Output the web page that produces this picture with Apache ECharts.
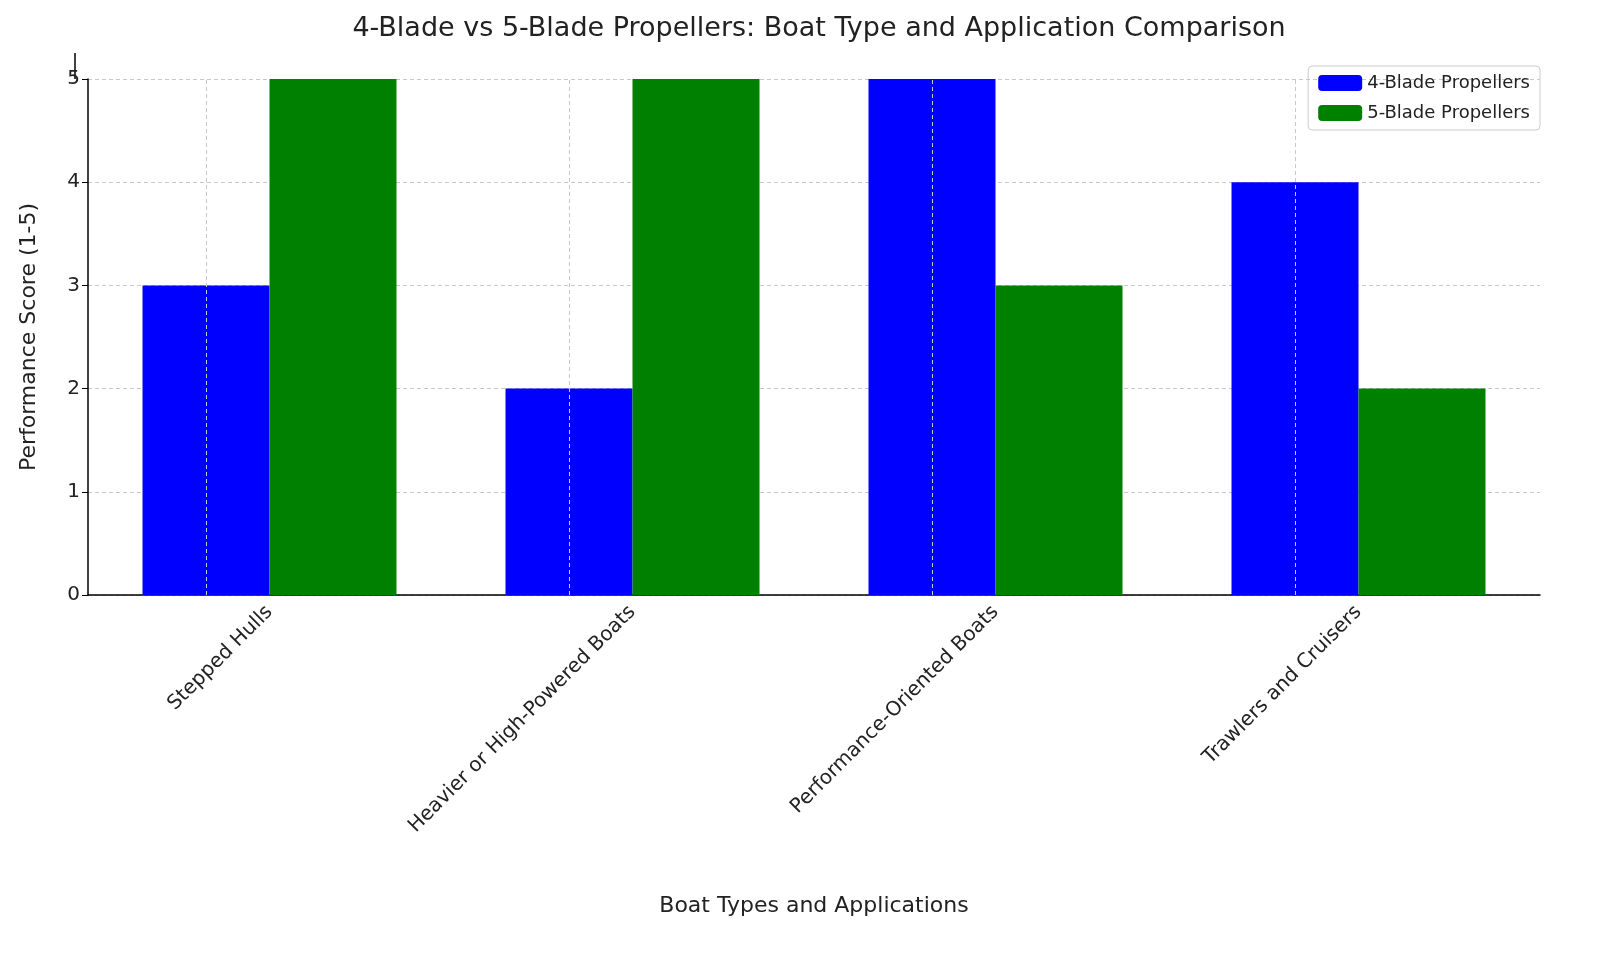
<!DOCTYPE html>
<html lang="en">
<head>
<meta charset="UTF-8">
<title>4-Blade vs 5-Blade Propellers</title>
<script src="https://cdn.jsdelivr.net/npm/echarts@6/dist/echarts.min.js"></script>
<style>
  * { margin: 0; }
  #main { width: 1600px; height: 954px; }
</style>
</head>
<body>
<div id="main"></div>
<script>
// chart data
var categories = ['Stepped Hulls', 'Heavier or High-Powered Boats', 'Performance-Oriented Boats', 'Trawlers and Cruisers'];
var fourBlade = [3, 2, 5, 4];
var fiveBlade = [5, 5, 3, 2];

var chart = echarts.init(document.getElementById('main'));
var font = 'DejaVu Sans';
var gridDash = { color: '#c8c8c8', type: [4, 3], width: 1 };

chart.setOption({
  textStyle: { fontFamily: font },
  title: {
    text: '4-Blade vs 5-Blade Propellers: Boat Type and Application Comparison',
    left: 814, top: 10, textAlign: 'center',
    textStyle: { fontSize: 27, fontWeight: 'normal', color: '#222', fontFamily: font }
  },
  legend: {
    right: 60, top: 66, orient: 'vertical', itemWidth: 44, itemHeight: 16, itemGap: 12,
    padding: [8, 10], borderColor: '#ccc', borderWidth: 1, borderRadius: 4,
    textStyle: { fontSize: 18, color: '#222' },
    data: ['4-Blade Propellers', '5-Blade Propellers']
  },
  grid: { left: 88, right: 60, top: 79, bottom: 359, containLabel: false },
  xAxis: {
    type: 'category', data: categories,
    name: 'Boat Types and Applications', nameLocation: 'middle', nameGap: 300,
    nameTextStyle: { fontSize: 22, color: '#222' },
    axisLine: { lineStyle: { color: '#000', width: 1.5 } },
    axisTick: { show: false },
    axisLabel: { rotate: 45, fontSize: 20, color: '#222', margin: 14 }
  },
  yAxis: {
    type: 'value', min: 0, max: 5, interval: 1,
    name: 'Performance Score (1-5)', nameLocation: 'middle', nameGap: 48,
    nameTextStyle: { fontSize: 22, color: '#222' },
    axisLine: { show: true, lineStyle: { color: '#000', width: 1.5 } },
    axisTick: { show: true, length: 6, lineStyle: { color: '#000' } },
    axisLabel: { fontSize: 20, color: '#222' },
    splitLine: { lineStyle: gridDash }
  },
  graphic: [{ type: 'line', shape: { x1: 75, y1: 53, x2: 75, y2: 79 }, style: { stroke: '#000', lineWidth: 1.5 } }],
  series: [
    {
      name: '4-Blade Propellers', type: 'bar', data: fourBlade, barWidth: 127, barGap: '0%',
      itemStyle: { color: '#0000ff' },
      markLine: {
        silent: true, symbol: 'none', label: { show: false }, lineStyle: gridDash,
        data: categories.map(function (c) { return { xAxis: c }; })
      }
    },
    { name: '5-Blade Propellers', type: 'bar', data: fiveBlade, barWidth: 127, itemStyle: { color: '#008000' } }
  ]
});
</script>
</body>
</html>
